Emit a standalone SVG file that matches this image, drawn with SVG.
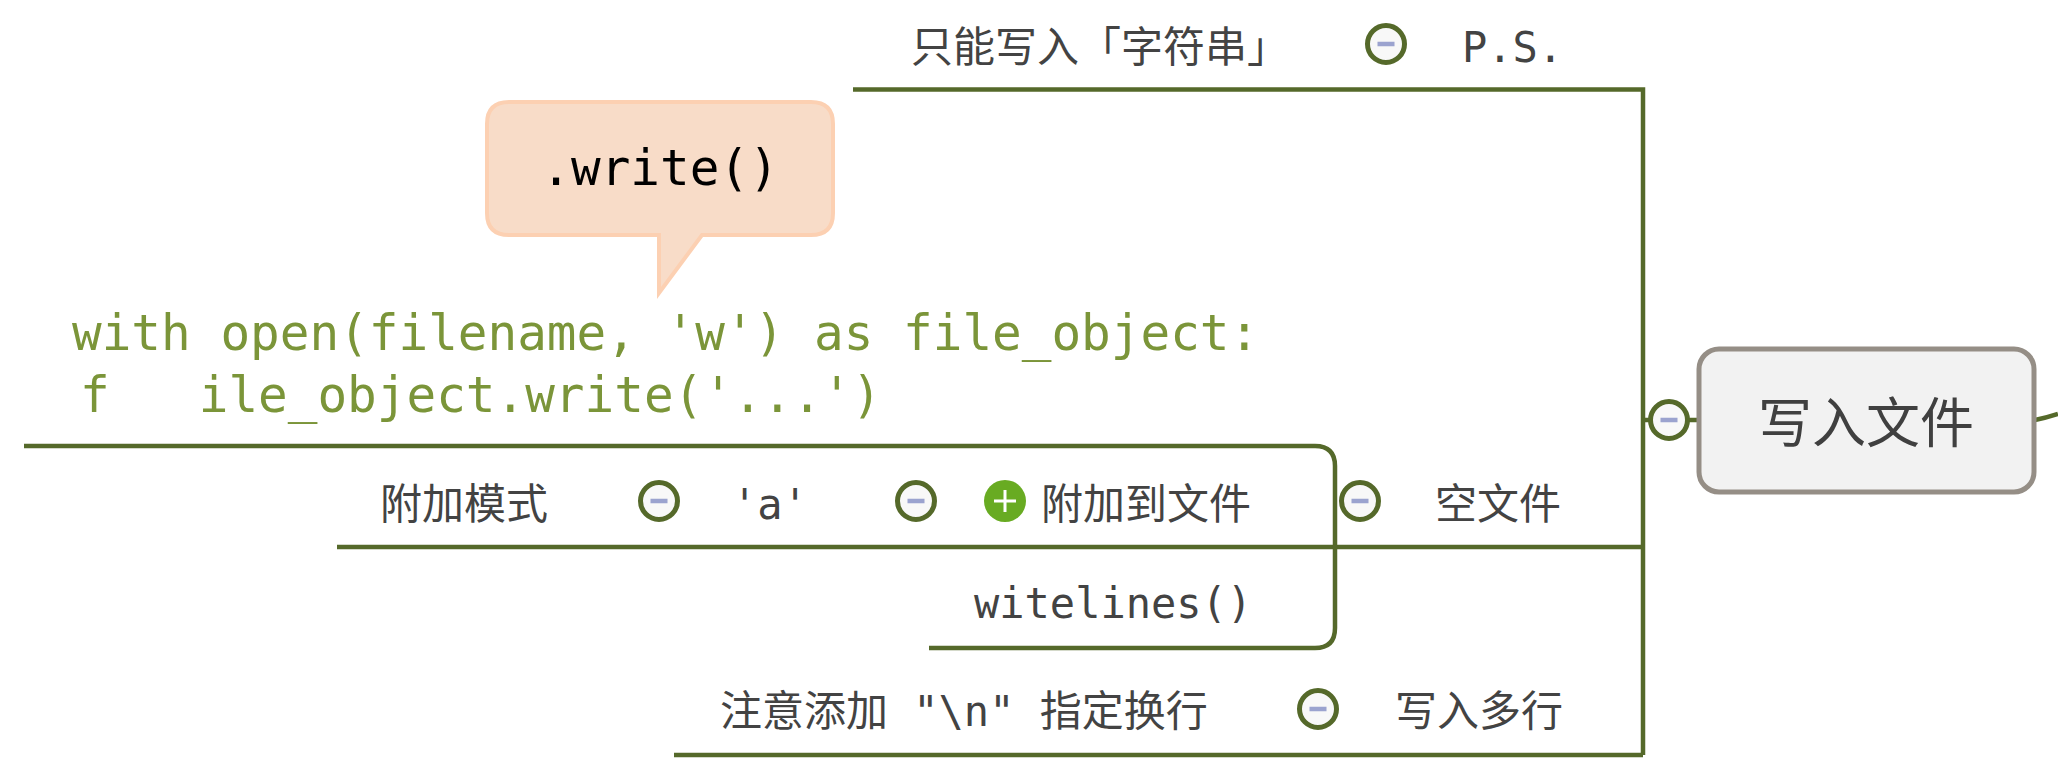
<svg xmlns="http://www.w3.org/2000/svg" width="2058" height="778" viewBox="0 0 2058 778">
<defs>
<style>
.ln{fill:none;stroke:#55692a;stroke-width:4.5;stroke-linejoin:miter}
.t{font-family:"DejaVu Sans Mono","Noto Sans CJK SC",monospace;font-size:42px;fill:#434343}
.code{font-family:"DejaVu Sans Mono","Liberation Mono",monospace;font-size:49.3px;fill:#7b9539}
.cir{fill:#f8f8f8;stroke:#55692a;stroke-width:5}
.minus{stroke:#9ba3cf;stroke-width:4.5}
</style>
<g id="col">
<circle class="cir" cx="0" cy="0" r="18.5"/>
<line class="minus" x1="-8.5" y1="0" x2="8.5" y2="0"/>
</g>
</defs>
<rect width="2058" height="778" fill="#ffffff"/>
<g id="connectors">
<path class="ln" d="M853,89.5 H1643 V755"/>
<path class="ln" d="M674,755 H1643"/>
<path class="ln" d="M337,547 H1643"/>
<path class="ln" d="M1643,420 H1652 M1686,420 H1700"/>
<path class="ln" d="M24,446 H1315 Q1335,446 1335,466 V628 Q1335,648 1315,648 H929"/>
<path class="ln" d="M2035,420 Q2046,418 2058,414"/>
</g>
<g id="root">
<rect x="1699" y="349" width="335" height="143" rx="20" fill="#f2f2f2" stroke="#958e86" stroke-width="5"/>
<text x="1866" y="443" text-anchor="middle" font-family="'Noto Sans CJK SC',serif" font-size="54" fill="#404040">写入文件</text>
<use href="#col" x="1669" y="420"/>
</g>
<g id="ps">
<text class="t" x="911" y="62">只能写入「字符串」</text>
<use href="#col" x="1386" y="44"/>
<text class="t" x="1462" y="62">P.S.</text>
</g>
<g id="callout">
<path d="M509,102 H811 Q833,102 833,124 V213 Q833,235 811,235 H702 L659,293 V235 H509 Q487,235 487,213 V124 Q487,102 509,102 Z" fill="#f8dcc8" stroke="#fcd0b2" stroke-width="4"/>
<text x="660" y="185" text-anchor="middle" font-family="'DejaVu Sans Mono',monospace" font-size="49.3" fill="#000000">.write()</text>
</g>
<g id="code">
<text class="code" x="72" y="350">with open(filename, 'w') as file_object:</text>
<text class="code" x="80" y="412" xml:space="preserve">f   ile_object.write('...')</text>
</g>
<g id="append">
<text class="t" x="380" y="519">附加模式</text>
<use href="#col" x="659" y="501"/>
<text class="t" x="732" y="519">'a'</text>
<use href="#col" x="916" y="501"/>
<g id="plus">
<circle cx="1005" cy="501" r="21" fill="#68ab22"/>
<line x1="994" y1="501" x2="1016" y2="501" stroke="#ffffff" stroke-width="3"/>
<line x1="1005" y1="490" x2="1005" y2="512" stroke="#ffffff" stroke-width="3"/>
</g>
<text class="t" x="1041" y="519">附加到文件</text>
</g>
<g id="empty">
<use href="#col" x="1360" y="501"/>
<text class="t" x="1435" y="519">空文件</text>
</g>
<g id="writelines">
<text class="t" x="974" y="618">witelines()</text>
</g>
<g id="multi">
<text class="t" x="720" y="726" xml:space="preserve">注意添加 "\n" 指定换行</text>
<use href="#col" x="1318" y="709"/>
<text class="t" x="1395" y="726">写入多行</text>
</g>
</svg>
